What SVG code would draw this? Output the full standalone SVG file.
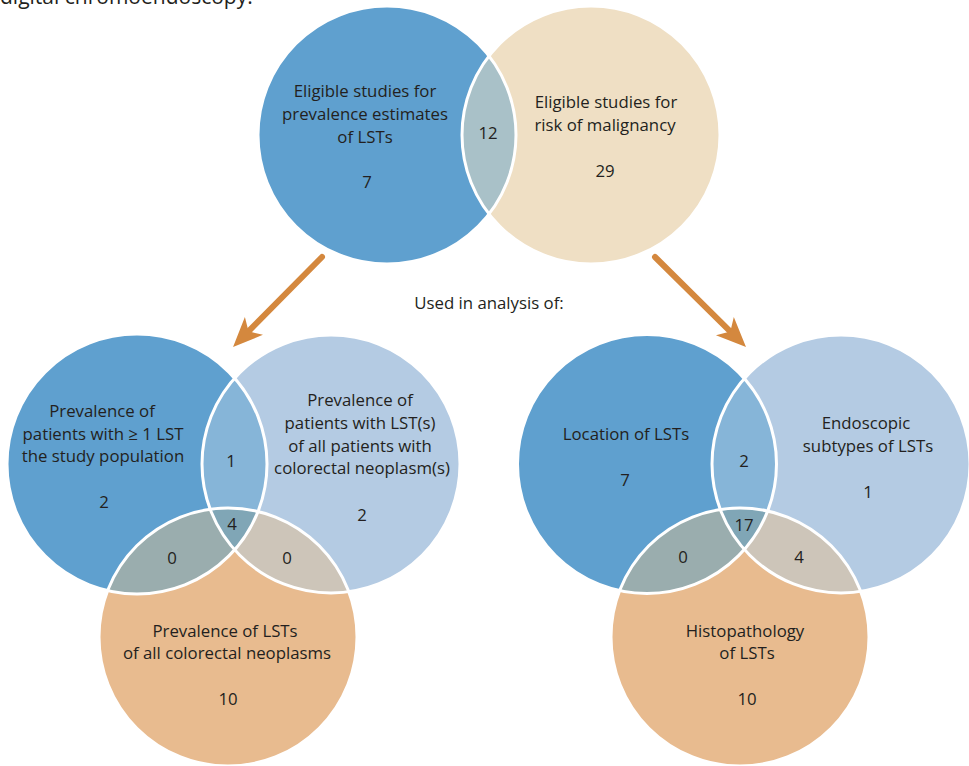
<svg xmlns="http://www.w3.org/2000/svg" width="969" height="766" viewBox="0 0 969 766">
<style>
.t{font-family:"Open Sans","Noto Sans",sans-serif;font-size:16.8px;fill:#231f20;text-anchor:middle}
.cap{font-family:"Open Sans","Noto Sans",sans-serif;font-size:21px;fill:#231f20}
.ol{fill:none;stroke:#fff;stroke-width:3}
.blue{fill:#5fa0cf}.lblue{fill:#b4cbe3}.orange{fill:#e8bb8f}.beige{fill:#efdfc4}
.ab{fill:#86b5d8}.ac{fill:#9aadae}.bc{fill:#cdc5b9}.abc{fill:#80a6b6}.lens{fill:#a9c1c8}
.arr{stroke:#d4883e;stroke-width:6;stroke-linecap:round;fill:none}
</style>
<defs>
<marker id="ah" markerUnits="userSpaceOnUse" viewBox="-15 -15 40 30" refX="0" refY="0" markerWidth="40" markerHeight="30" orient="auto">
<path d="M18,0 L-11.7,-12.7 L-4,0 L-11.7,12.7Z" fill="#d4883e"/>
</marker>
<clipPath id="tA"><circle cx="387" cy="135" r="129"/></clipPath>
<clipPath id="lA"><circle cx="137" cy="464" r="130"/></clipPath>
<clipPath id="lB"><circle cx="331" cy="464" r="129"/></clipPath>
<clipPath id="rA"><circle cx="647" cy="464" r="129.5"/></clipPath>
<clipPath id="rB"><circle cx="841" cy="464" r="129"/></clipPath>
</defs>

<text class="cap" x="0" y="4">digital chromoendoscopy.</text>

<g id="top-venn">
<g id="top-prevalence"><circle class="blue" cx="387" cy="135" r="129"/></g>
<g id="top-malignancy"><circle class="beige" cx="591" cy="135" r="129"/></g>
<g id="top-overlap" clip-path="url(#tA)"><circle class="lens" cx="591" cy="135" r="129"/></g>
<circle class="ol" cx="387" cy="135" r="129"/>
<circle class="ol" cx="591" cy="135" r="129"/>
<text class="t" x="365" y="97">Eligible studies for</text>
<text class="t" x="365" y="120">prevalence estimates</text>
<text class="t" x="365" y="143">of LSTs</text>
<text class="t" x="367" y="188">7</text>
<text class="t" x="488" y="139">12</text>
<text class="t" x="606" y="108">Eligible studies for</text>
<text class="t" x="605" y="131">risk of malignancy</text>
<text class="t" x="605" y="177">29</text>
</g>

<g id="connectors">
<line class="arr" x1="322" y1="257" x2="245.7" y2="334.2" marker-end="url(#ah)"/>
<line class="arr" x1="655" y1="257" x2="733.2" y2="334.35" marker-end="url(#ah)"/>
</g>
<text class="t" x="489" y="309">Used in analysis of:</text>

<g id="left-venn">
<g id="l-patients"><circle class="blue" cx="137" cy="464" r="130"/></g>
<g id="l-neoplasm-patients"><circle class="lblue" cx="331" cy="464" r="129"/></g>
<g id="l-lsts"><circle class="orange" cx="228" cy="637" r="129"/></g>
<g clip-path="url(#lA)"><circle class="ab" cx="331" cy="464" r="129"/><circle class="ac" cx="228" cy="637" r="129"/></g>
<g clip-path="url(#lB)"><circle class="bc" cx="228" cy="637" r="129"/></g>
<g clip-path="url(#lA)"><g clip-path="url(#lB)"><circle class="abc" cx="228" cy="637" r="129"/></g></g>
<circle class="ol" cx="137" cy="464" r="130"/>
<circle class="ol" cx="331" cy="464" r="129"/>
<circle class="ol" cx="228" cy="637" r="129"/>
<text class="t" x="102" y="417">Prevalence of</text>
<text class="t" x="103" y="440">patients with ≥ 1 LST</text>
<text class="t" x="103" y="462">the study population</text>
<text class="t" x="104" y="508">2</text>
<text class="t" x="231" y="467">1</text>
<text class="t" x="360" y="406">Prevalence of</text>
<text class="t" x="360" y="429">patients with LST(s)</text>
<text class="t" x="360" y="452">of all patients with</text>
<text class="t" x="362" y="474">colorectal neoplasm(s)</text>
<text class="t" x="362" y="521">2</text>
<text class="t" x="232" y="530">4</text>
<text class="t" x="172" y="564">0</text>
<text class="t" x="287" y="564">0</text>
<text class="t" x="225" y="637">Prevalence of LSTs</text>
<text class="t" x="227" y="659">of all colorectal neoplasms</text>
<text class="t" x="228" y="705">10</text>
</g>

<g id="right-venn">
<g id="r-location"><circle class="blue" cx="647" cy="464" r="129.5"/></g>
<g id="r-subtypes"><circle class="lblue" cx="841" cy="464" r="129"/></g>
<g id="r-histopathology"><circle class="orange" cx="740" cy="637" r="129"/></g>
<g clip-path="url(#rA)"><circle class="ab" cx="841" cy="464" r="129"/><circle class="ac" cx="740" cy="637" r="129"/></g>
<g clip-path="url(#rB)"><circle class="bc" cx="740" cy="637" r="129"/></g>
<g clip-path="url(#rA)"><g clip-path="url(#rB)"><circle class="abc" cx="740" cy="637" r="129"/></g></g>
<circle class="ol" cx="647" cy="464" r="129.5"/>
<circle class="ol" cx="841" cy="464" r="129"/>
<circle class="ol" cx="740" cy="637" r="129"/>
<text class="t" x="626" y="440">Location of LSTs</text>
<text class="t" x="625" y="486">7</text>
<text class="t" x="744" y="467">2</text>
<text class="t" x="866" y="429">Endoscopic</text>
<text class="t" x="868" y="452">subtypes of LSTs</text>
<text class="t" x="868" y="498">1</text>
<text class="t" x="744" y="531">17</text>
<text class="t" x="683" y="563">0</text>
<text class="t" x="799" y="563">4</text>
<text class="t" x="745" y="637">Histopathology</text>
<text class="t" x="747" y="659">of LSTs</text>
<text class="t" x="747" y="705">10</text>
</g>
</svg>
